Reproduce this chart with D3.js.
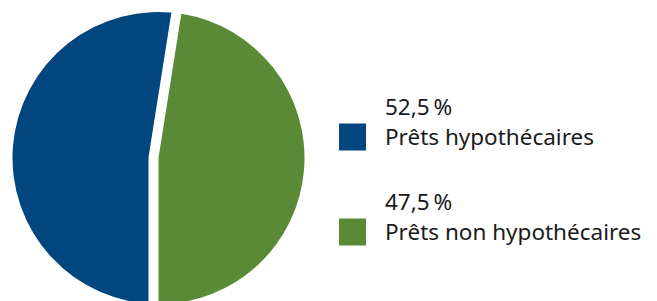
<!DOCTYPE html>
<html>
<head>
<meta charset="utf-8">
<script src="https://cdn.jsdelivr.net/npm/d3@7"></script>
<style>
  body { margin: 0; background: #fff; }
  text { font-family: "Noto Sans", "Open Sans", sans-serif; fill: #1a1a1a; }
</style>
</head>
<body>
<svg id="chart"></svg>
<script>
const width = 657;
const height = 301;

const labels = ['Prêts hypothécaires', 'Prêts non hypothécaires'];
const values = [52.5, 47.5];
const colors = ['#02467f', '#5a8a36'];

const svg = d3.select('#chart')
    .attr('width', width)
    .attr('height', height);

const cx = 158.5, cy = 158, radius = 146, gap = 10;

// blue goes first, from the bottom round the left side
const pie = d3.pie().sort(null)
    .startAngle(Math.PI)
    .endAngle(3 * Math.PI);
const arcs = pie(values);
const arc = d3.arc().innerRadius(0).outerRadius(radius);

const pie_g = svg.append('g')
    .attr('transform', `translate(${cx},${cy})`);

pie_g.append('path')
    .attr('d', arc(arcs[0]))
    .attr('fill', colors[0]);

// white band cut out of the blue slice along the green slice's edges
const green = arcs[1];
const ext = radius + 12;
const edge = a => [ext * Math.sin(a), -ext * Math.cos(a)];
pie_g.append('path')
    .attr('d', d3.line()([edge(green.startAngle), [0, 0], edge(green.endAngle)]))
    .attr('fill', 'none')
    .attr('stroke', '#fff')
    .attr('stroke-width', gap * 2)
    .attr('stroke-linejoin', 'miter');

pie_g.append('path')
    .attr('d', arc(green))
    .attr('fill', colors[1]);

// legend
const fr = d3.formatLocale({decimal: ',', thousands: '\u202f', grouping: [3], currency: ['', ' €']});
const pct = fr.format('.1f');

const y = d3.scalePoint()
    .domain(labels)
    .range([144.5, 239.5]);

const legend = svg.append('g')
    .selectAll('g')
    .data(labels)
    .enter().append('g')
    .attr('transform', d => `translate(0,${y(d)})`);

legend.append('rect')
    .attr('x', 339)
    .attr('y', -21)
    .attr('width', 27)
    .attr('height', 27)
    .attr('fill', (d, i) => colors[i]);

legend.append('text')
    .attr('x', 385)
    .attr('y', -29.5)
    .attr('font-size', 22.5)
    .text((d, i) => pct(values[i]) + '\u202f%');

legend.append('text')
    .attr('x', 385)
    .attr('y', 0)
    .attr('font-size', 22.5)
    .text(d => d);
</script>
</body>
</html>
